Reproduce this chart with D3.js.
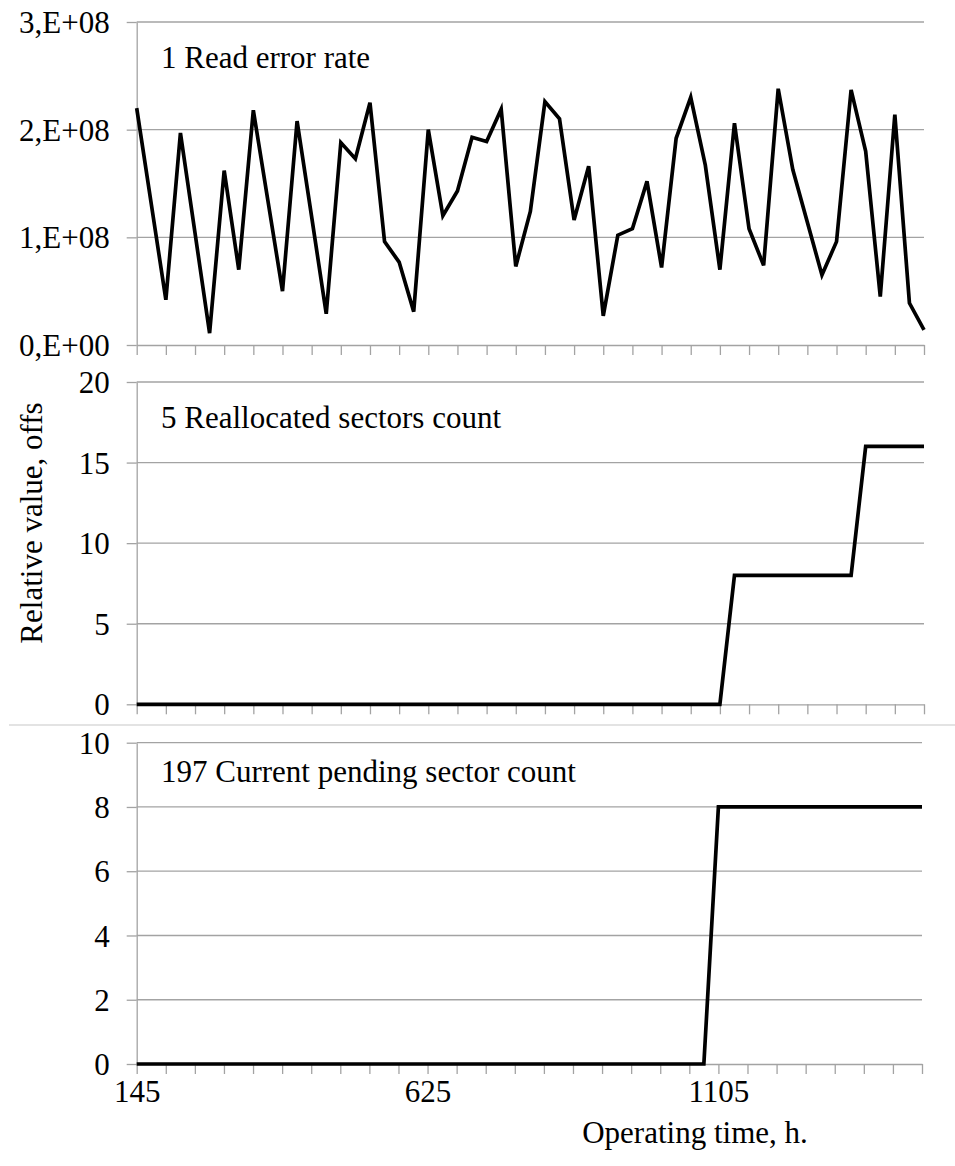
<!DOCTYPE html>
<html>
<head>
<meta charset="utf-8">
<script src="https://cdn.jsdelivr.net/npm/d3@7/dist/d3.min.js"></script>
<style>
  html, body { margin: 0; padding: 0; background: #fff; }
  svg text { font-family: "Liberation Serif", "Times New Roman", Times, "DejaVu Serif", serif; }
</style>
</head>
<body>
<svg id="chart" width="955" height="1166"></svg>
<script>
// Operating time of the drive, hours (one reading every 24 h)
const hours = [145, 169, 193, 217, 241, 265, 289, 313, 337, 361, 385, 409, 433, 457, 481,
  505, 529, 553, 577, 601, 625, 649, 673, 697, 721, 745, 769, 793, 817, 841, 865, 889,
  913, 937, 961, 985, 1009, 1033, 1057, 1081, 1105, 1129, 1153, 1177, 1201, 1225, 1249,
  1273, 1297, 1321, 1345, 1369, 1393, 1417, 1441];

// SMART attribute 1: Read error rate
const readErrorRate = [2.20e8, 1.31e8, 0.42e8, 1.97e8, 1.04e8, 0.11e8, 1.62e8, 0.70e8,
  2.18e8, 1.34e8, 0.50e8, 2.08e8, 1.19e8, 0.29e8, 1.88e8, 1.73e8, 2.25e8, 0.96e8,
  0.77e8, 0.31e8, 2.00e8, 1.20e8, 1.43e8, 1.93e8, 1.89e8, 2.19e8, 0.73e8, 1.24e8,
  2.26e8, 2.10e8, 1.16e8, 1.66e8, 0.27e8, 1.02e8, 1.08e8, 1.52e8, 0.72e8, 1.92e8,
  2.30e8, 1.67e8, 0.70e8, 2.06e8, 1.08e8, 0.74e8, 2.38e8, 1.63e8, 1.14e8, 0.65e8,
  0.96e8, 2.37e8, 1.80e8, 0.45e8, 2.14e8, 0.39e8, 0.14e8];

// SMART attribute 5: Reallocated sectors count
const reallocatedSectors = [0, 0, 0, 0, 0, 0, 0, 0, 0, 0, 0, 0, 0, 0, 0, 0, 0, 0, 0, 0,
  0, 0, 0, 0, 0, 0, 0, 0, 0, 0, 0, 0, 0, 0, 0, 0, 0, 0, 0, 0, 0,
  8, 8, 8, 8, 8, 8, 8, 8, 8, 16, 16, 16, 16, 16];

// SMART attribute 197: Current pending sector count
const pendingSectors = [0, 0, 0, 0, 0, 0, 0, 0, 0, 0, 0, 0, 0, 0, 0, 0, 0, 0, 0, 0,
  0, 0, 0, 0, 0, 0, 0, 0, 0, 0, 0, 0, 0, 0, 0, 0, 0, 0, 0, 0,
  8, 8, 8, 8, 8, 8, 8, 8, 8, 8, 8, 8, 8, 8, 8];

// Tick values and their labels
const ticksReadError = [0, 1e8, 2e8, 3e8];
const tickLabelsReadError = ["0,E+00", "1,E+08", "2,E+08", "3,E+08"];
const ticksReallocated = [0, 5, 10, 15, 20];
const ticksPending = [0, 2, 4, 6, 8, 10];
const labelledHours = [145, 625, 1105];

const panelTitles = ["1 Read error rate", "5 Reallocated sectors count", "197 Current pending sector count"];
const yAxisTitle = "Relative value, offs";
const xAxisTitle = "Operating time, h.";

const svg = d3.select("#chart");
const gridColor = "#a3a3a3";
const fontSize = 31;

const panels = [
  { values: readErrorRate, domain: [0, 3e8], ticks: ticksReadError,
    fmt: (d, i) => tickLabelsReadError[i], x0: 136.7, x1: 924, yTop: 22, yBot: 345,
    title: panelTitles[0], titleY: 67.7, xLabels: false },
  { values: reallocatedSectors, domain: [0, 20], ticks: ticksReallocated,
    fmt: d3.format("d"), x0: 136.7, x1: 924, yTop: 382, yBot: 704.3,
    title: panelTitles[1], titleY: 428.3, xLabels: false },
  { values: pendingSectors, domain: [0, 10], ticks: ticksPending,
    fmt: d3.format("d"), x0: 136.7, x1: 922, yTop: 742.7, yBot: 1064,
    title: panelTitles[2], titleY: 781.7, xLabels: true }
];

panels.forEach(p => {
  const x = d3.scalePoint().domain(hours).range([p.x0, p.x1]);
  const y = d3.scaleLinear().domain(p.domain).range([p.yBot, p.yTop]);
  const g = svg.append("g");

  // horizontal gridlines
  g.append("g").selectAll("line")
    .data(p.ticks.filter(t => t !== p.domain[0]))
    .join("line")
    .attr("x1", p.x0).attr("x2", p.x1)
    .attr("y1", d => y(d)).attr("y2", d => y(d))
    .attr("stroke", gridColor).attr("stroke-width", 1.3);

  // value axis
  const yAxis = d3.axisLeft(y).tickValues(p.ticks).tickFormat(p.fmt)
    .tickSize(10).tickSizeOuter(0).tickPadding(17);
  const ya = g.append("g").attr("transform", `translate(${p.x0},0)`).call(yAxis)
    .attr("font-family", null).attr("font-size", null);
  ya.selectAll("path, line").attr("stroke", gridColor).attr("stroke-width", 1.3);
  ya.selectAll("text").attr("font-size", fontSize).attr("fill", "#000").attr("dy", "0.34em");

  // category axis: tick every second reading
  const xAxis = d3.axisBottom(x)
    .tickValues(hours.filter((h, i) => i % 2 === 0))
    .tickFormat(h => (p.xLabels && labelledHours.includes(h)) ? h : "")
    .tickSize(10).tickSizeOuter(0).tickPadding(6);
  const xa = g.append("g").attr("transform", `translate(0,${p.yBot})`).call(xAxis)
    .attr("font-family", null).attr("font-size", null);
  xa.selectAll("path, line").attr("stroke", gridColor).attr("stroke-width", 1.3);
  xa.selectAll("text").attr("font-size", fontSize).attr("fill", "#000");

  // data line
  const line = d3.line().x((d, i) => x(hours[i])).y(d => y(d));
  g.append("path").datum(p.values)
    .attr("d", line)
    .attr("fill", "none").attr("stroke", "#000")
    .attr("stroke-width", 3.7).attr("stroke-linejoin", "miter");

  // panel title
  g.append("text").attr("x", 161).attr("y", p.titleY)
    .attr("font-size", fontSize).text(p.title);
});

// divider between the second and third panel
svg.append("line").attr("x1", 9).attr("x2", 955).attr("y1", 725).attr("y2", 725)
  .attr("stroke", "#c8c8c8").attr("stroke-width", 1.2);

// axis titles
svg.append("text").attr("transform", "translate(42,523) rotate(-90)")
  .attr("text-anchor", "middle").attr("font-size", fontSize).text(yAxisTitle);
svg.append("text").attr("x", 695).attr("y", 1143)
  .attr("text-anchor", "middle").attr("font-size", fontSize).text(xAxisTitle);
</script>
</body>
</html>
